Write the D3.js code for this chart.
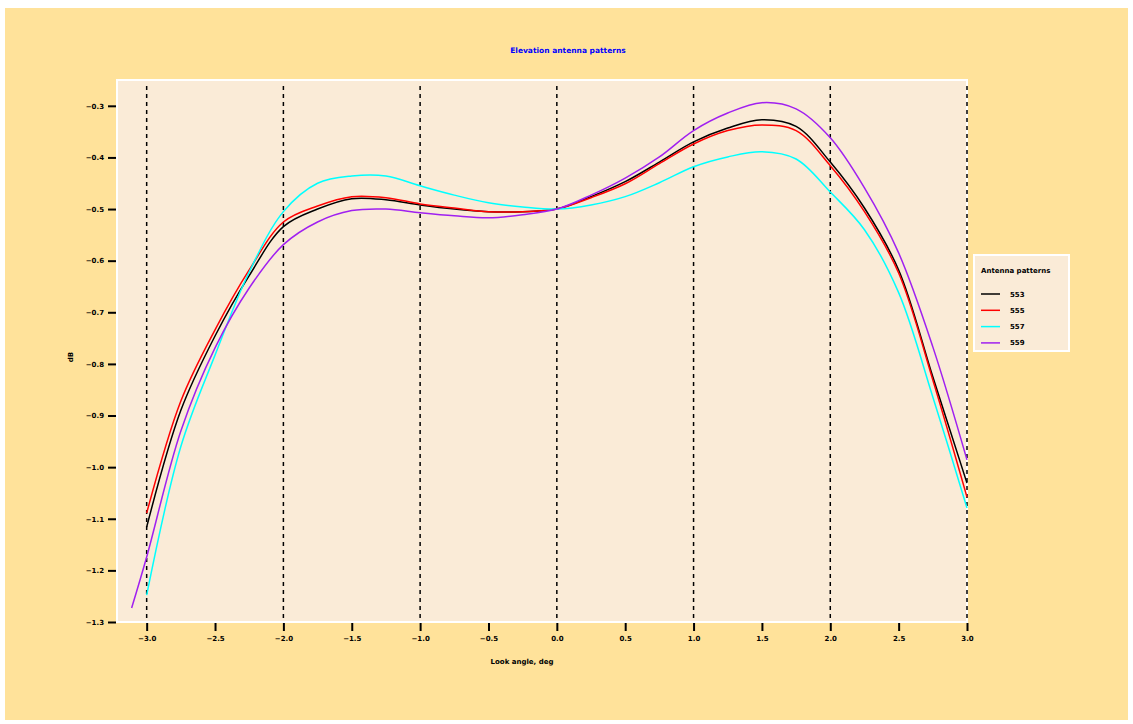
<!DOCTYPE html>
<html>
<head>
<meta charset="utf-8">
<script src="https://cdn.jsdelivr.net/npm/d3@7"></script>
<style>
  body { margin: 0; background: #ffffff; }
  text { font-family: "DejaVu Sans", sans-serif; }
</style>
</head>
<body>
<div id="chart"><svg width="1133" height="724"></svg></div>
<script>
// ---- data ----
const angles = [-3, -2.75, -2.5, -2.25, -2, -1.75, -1.5, -1.25, -1, -0.75, -0.5, -0.25,
                0, 0.25, 0.5, 0.75, 1, 1.25, 1.5, 1.75, 2, 2.25, 2.5, 2.75, 3];
const anglesPurple = [-3.11].concat(angles);

const s553 = [-1.116, -0.890, -0.746, -0.629, -0.534, -0.500, -0.480, -0.482, -0.492, -0.500, -0.505, -0.505,
              -0.500, -0.476, -0.447, -0.409, -0.370, -0.343, -0.327, -0.340, -0.409, -0.498, -0.618, -0.825, -1.031];
const s555 = [-1.089, -0.872, -0.734, -0.618, -0.525, -0.494, -0.476, -0.478, -0.490, -0.498, -0.505, -0.505,
              -0.500, -0.478, -0.451, -0.412, -0.374, -0.348, -0.337, -0.348, -0.416, -0.505, -0.624, -0.831, -1.058];
const s557 = [-1.248, -0.960, -0.783, -0.622, -0.505, -0.450, -0.436, -0.436, -0.455, -0.473, -0.488, -0.496,
              -0.500, -0.492, -0.476, -0.449, -0.418, -0.399, -0.389, -0.403, -0.467, -0.540, -0.662, -0.864, -1.079];
const s559 = [-1.273, -1.174, -0.930, -0.769, -0.653, -0.569, -0.525, -0.503, -0.500, -0.507, -0.513, -0.517, -0.511,
              -0.500, -0.473, -0.440, -0.399, -0.348, -0.314, -0.294, -0.306, -0.362, -0.459, -0.585, -0.767, -0.986];

const seriesNames = ["553", "555", "557", "559"];
const seriesColors = ["#000000", "#ff0000", "#00ffff", "#a020f0"];
const xTicks = [-3, -2.5, -2, -1.5, -1, -0.5, 0, 0.5, 1, 1.5, 2, 2.5, 3];
const gridLines = [-3, -2, -1, 0, 1, 2, 3];
const yTicks = [-1.3, -1.2, -1.1, -1.0, -0.9, -0.8, -0.7, -0.6, -0.5, -0.4, -0.3];

const series = [
  {name: seriesNames[0], color: seriesColors[0], xs: angles, ys: s553},
  {name: seriesNames[1], color: seriesColors[1], xs: angles, ys: s555},
  {name: seriesNames[2], color: seriesColors[2], xs: angles, ys: s557},
  {name: seriesNames[3], color: seriesColors[3], xs: anglesPurple, ys: s559}
];

/***** setup *****/
const svg = d3.select("#chart svg");
const margin = {top: 80, left: 117, right: 166, bottom: 102};
const width = 1133, height = 724;

// outer panel
svg.append("rect")
    .attr("x", 5).attr("y", 8)
    .attr("width", width - 10).attr("height", height - 12)
    .style("fill", "#ffe29a");

const xScale = d3.scaleLinear()
    .domain([-3.217, 3.0])
    .range([margin.left, width - margin.right]);

const yScale = d3.scaleLinear()
    .domain([-1.3, -0.25])
    .range([height - margin.bottom, margin.top]);

// plot panel
svg.append("rect")
    .attr("x", margin.left).attr("y", margin.top)
    .attr("width", xScale.range()[1] - margin.left)
    .attr("height", yScale.range()[0] - margin.top)
    .style("fill", "#faebd7")
    .style("stroke", "white")
    .style("stroke-width", 2);

/***** axes *****/
const xAxis = d3.axisBottom(xScale)
    .tickValues(xTicks)
    .tickSize(8)
    .tickPadding(5)
    .tickFormat(d3.format(".1f"));

svg.append("g")
    .attr("class", "xAxis")
    .attr("transform", "translate(0," + (yScale.range()[0] + 1) + ")")
    .call(xAxis)
    .call(g => g.select(".domain").remove())
    .call(g => g.selectAll("line").attr("stroke-width", 2))
    .selectAll("text")
    .style("font-size", "7px")
    .style("font-weight", "bold")
    .style("fill", "black");

const yAxis = d3.axisLeft(yScale)
    .tickValues(yTicks)
    .tickSize(8)
    .tickPadding(4)
    .tickFormat(d3.format(".1f"));

svg.append("g")
    .attr("class", "yAxis")
    .attr("transform", "translate(" + (margin.left - 1) + ",0)")
    .call(yAxis)
    .call(g => g.select(".domain").remove())
    .call(g => g.selectAll("line").attr("stroke-width", 2))
    .selectAll("text")
    .style("font-size", "7px")
    .style("font-weight", "bold")
    .style("fill", "black");

// dashed verticals
svg.selectAll(".gridV").data(gridLines).enter()
    .append("line")
    .attr("class", "gridV")
    .attr("x1", d => xScale(d)).attr("x2", d => xScale(d))
    .attr("y1", margin.top + 6).attr("y2", yScale.range()[0])
    .attr("stroke", "black")
    .attr("stroke-width", 1.5)
    .attr("stroke-dasharray", "4,4");

/***** curves *****/
const line = d3.line()
    .x(d => xScale(d[0]))
    .y(d => yScale(d[1]))
    .curve(d3.curveCatmullRom.alpha(0.5));

svg.selectAll(".curve").data(series).enter()
    .append("path")
    .attr("class", "curve")
    .attr("d", d => line(d.xs.map((x, i) => [x, d.ys[i]])))
    .attr("fill", "none")
    .attr("stroke", d => d.color)
    .attr("stroke-width", 1.5);

/***** labels *****/
svg.append("text")
    .attr("x", 568).attr("y", 53)
    .attr("text-anchor", "middle")
    .style("font-size", "7.5px")
    .style("font-weight", "bold")
    .style("fill", "#0000ff")
    .text("Elevation antenna patterns");

svg.append("text")
    .attr("x", (xScale.range()[0] + xScale.range()[1]) / 2 - 20)
    .attr("y", 664)
    .attr("text-anchor", "middle")
    .style("font-size", "7px")
    .style("font-weight", "bold")
    .text("Look angle, deg");

svg.append("text")
    .attr("transform", "translate(73," + ((margin.top + yScale.range()[0]) / 2 + 6) + ") rotate(-90)")
    .attr("text-anchor", "middle")
    .style("font-size", "7px")
    .style("font-weight", "bold")
    .text("dB");

/***** legend *****/
const legend = svg.append("g").attr("transform", "translate(974,255)");
legend.append("rect")
    .attr("width", 95).attr("height", 96)
    .style("fill", "#faebd7")
    .style("stroke", "white")
    .style("stroke-width", 2);
legend.append("text")
    .attr("x", 7).attr("y", 18)
    .style("font-size", "7px")
    .style("font-weight", "bold")
    .text("Antenna patterns");

const items = legend.selectAll(".legItem").data(series).enter()
    .append("g")
    .attr("class", "legItem")
    .attr("transform", (d, i) => "translate(0," + (39 + i * 16.3) + ")");
items.append("line")
    .attr("x1", 7).attr("x2", 26)
    .attr("stroke", d => d.color)
    .attr("stroke-width", 1.5);
items.append("text")
    .attr("x", 36).attr("y", 2.5)
    .style("font-size", "7px")
    .style("font-weight", "bold")
    .text(d => d.name);
</script>
</body>
</html>
